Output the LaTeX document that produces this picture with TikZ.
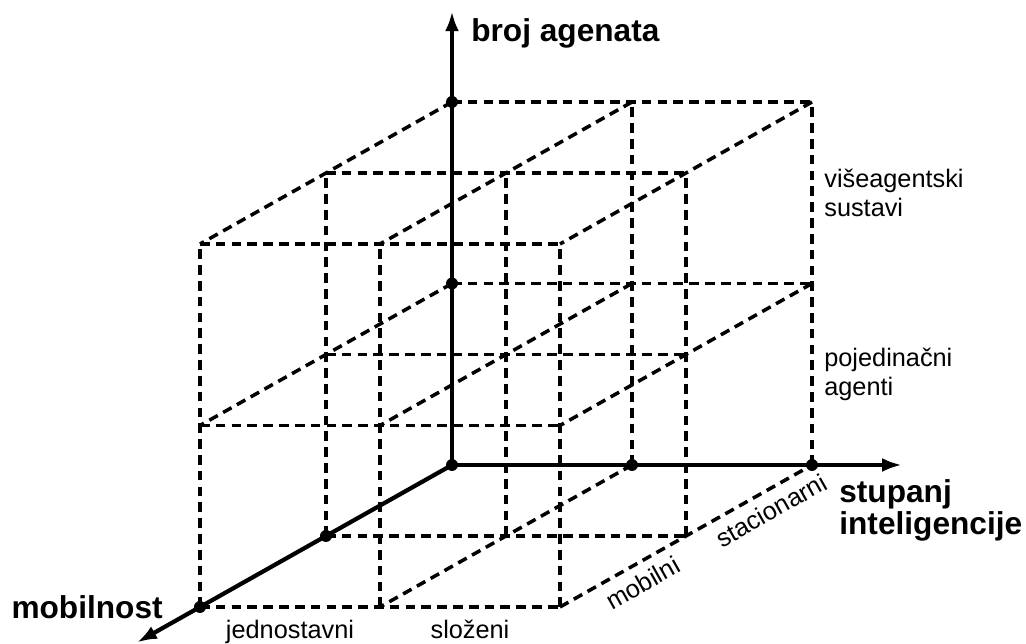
\documentclass[tikz,border=0pt]{standalone}
\usepackage{fontspec}
\setmainfont{Liberation Sans}
\usetikzlibrary{arrows.meta}
\tikzset{
  mreza/.style={line width=2pt, dash pattern=on 5.5pt off 3.5pt},
  os/.style={line width=2.4pt, -{Latex[length=0.4cm, width=0.28cm]}},
  tocka/.style={fill=black},
  osoznaka/.style={inner sep=0pt, align=left, font=\bfseries\fontsize{18}{18.5}\selectfont},
  oznaka/.style={inner sep=0pt, align=left, font=\fontsize{14.4}{16.8}\selectfont}
}

\begin{document}
\begin{tikzpicture}[x={(3.6cm,0cm)}, y={(0cm,3.63cm)}, z={(-2.52cm,-1.42cm)}]
			%%%%% START %%%%%
			\useasboundingbox (-9.04cm,-3.58cm) rectangle (11.48cm,9.30cm);
			
			% stražnja ravnina
			\draw[mreza] (0,1,0) -- (2,1,0);
			\draw[mreza] (0,2,0) -- (2,2,0);
			\draw[mreza] (1,0,0) -- (1,2,0);
			\draw[mreza] (2,0,0) -- (2,2,0);
			
			% srednja ravnina
			\draw[mreza] (0,0,1) -- (2,0,1);
			\draw[mreza] (0,1,1) -- (2,1,1);
			\draw[mreza] (0,2,1) -- (2,2,1);
			\draw[mreza] (0,0,1) -- (0,2,1);
			\draw[mreza] (1,0,1) -- (1,2,1);
			\draw[mreza] (2,0,1) -- (2,2,1);
			
			% prednja ravnina
			\draw[mreza] (0,0,2) -- (2,0,2);
			\draw[mreza] (0,1,2) -- (2,1,2);
			\draw[mreza] (0,2,2) -- (2,2,2);
			\draw[mreza] (0,0,2) -- (0,2,2);
			\draw[mreza] (1,0,2) -- (1,2,2);
			\draw[mreza] (2,0,2) -- (2,2,2);
			
			% dubina
			\draw[mreza] (0,1,0) -- (0,1,2);
			\draw[mreza] (0,2,0) -- (0,2,2);
			\draw[mreza] (1,0,0) -- (1,0,2);
			\draw[mreza] (1,1,0) -- (1,1,2);
			\draw[mreza] (1,2,0) -- (1,2,2);
			\draw[mreza] (2,1,0) -- (2,1,2);
			\draw[mreza] (2,2,0) -- (2,2,2);
			\draw[mreza] (2,0,2) -- (2,0,0)
				node[oznaka, inner sep=0.17cm, pos=0.29, sloped, below] (mobilni) {mobilni}
				node[oznaka, inner sep=0.17cm, pos=0.8, sloped, below] (stacionarni) {stacionarni};
			
			% osi
			\coordinate (O) at (0,0,0);
			\coordinate (ybroj) at (0,2.5,0);
			\coordinate (xint) at (2.5,0,0);
			\coordinate (zmob) at (0,0,2.5);
			\draw[os] (O) -- (ybroj);
			\draw[os] (O) -- (xint);
			\draw[os] (O) -- (zmob);
			
			\coordinate (Y1) at (0,1,0);
			\coordinate (Y2) at (0,2,0);
			\coordinate (X1) at (1,0,0);
			\coordinate (X2) at (2,0,0);
			\coordinate (Z1) at (0,0,1);
			\coordinate (Z2) at (0,0,2);
			\foreach \t in {O,Y1,Y2,X1,X2,Z1,Z2}
				\fill[tocka] (\t) circle (0.12cm);
			
			\node[osoznaka, anchor=west, xshift=0.38cm, yshift=-0.44cm] (broj) at (ybroj) {broj agenata};
			\node[osoznaka, anchor=north west, xshift=-1.26cm, yshift=-0.28cm] (stupanj) at (xint) {stupanj\\inteligencije};
			\node[osoznaka, anchor=east, xshift=-0.74cm] (mobilnost) at (Z2) {mobilnost};
			
			\node[oznaka, anchor=west, xshift=0.24cm] (vise) at (2,1.5,0) {višeagentski\\sustavi};
			\node[oznaka, anchor=west, xshift=0.24cm] (pojed) at (2,0.5,0) {pojedinačni\\agenti};
			\node[oznaka, anchor=north, yshift=-0.25cm] (jedn) at (0.5,0,2) {jednostavni};
			\node[oznaka, anchor=north, yshift=-0.25cm] (slozeni) at (1.5,0,2) {složeni};
			
			%%%%% END %%%%%
\end{tikzpicture}
\end{document}
